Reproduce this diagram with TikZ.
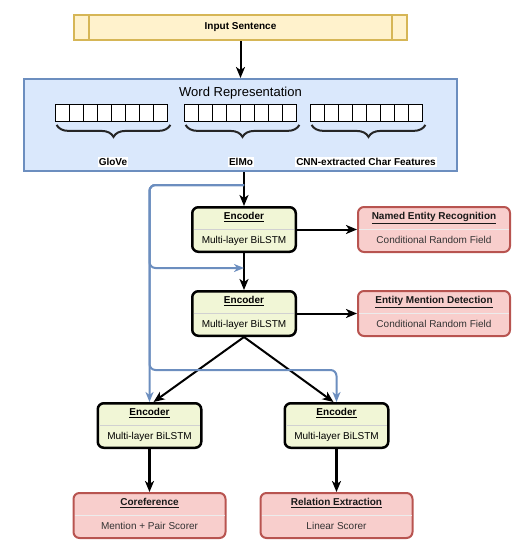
\documentclass[tikz,border=0pt]{standalone}
\usepackage{fontspec}
\setmainfont{Liberation Sans}
\usetikzlibrary{positioning,calc,arrows.meta,decorations.pathreplacing}

\definecolor{sentfill}{HTML}{FFF2CC}
\definecolor{sentline}{HTML}{D6B656}
\definecolor{repfill}{HTML}{DAE8FC}
\definecolor{repline}{HTML}{6C8EBF}
\definecolor{encfill}{HTML}{F1F6D6}
\definecolor{taskfill}{HTML}{F8CECC}
\definecolor{taskline}{HTML}{B85450}

\begin{document}
\begin{tikzpicture}[
  x=1pt, y=-1pt,
  every node/.style={
    text centered,
    font=\fontsize{10}{12}\selectfont
  },
  sentence/.style={
    rectangle,
    draw=sentline,
    fill=sentfill,
    line width=2pt,
    minimum width=333pt,
    minimum height=25pt,
    inner sep=0pt,
    font=\bfseries\fontsize{10}{12}\selectfont
  },
  wordbox/.style={
    rectangle,
    draw=repline,
    fill=repfill,
    line width=2pt,
    minimum width=433pt,
    minimum height=92pt,
    inner sep=0pt
  },
  cell/.style={
    rectangle,
    draw=black,
    fill=white,
    line width=0.8pt,
    minimum width=14pt,
    minimum height=17pt,
    inner sep=0pt
  },
  tag/.style={
    fill=white,
    inner sep=1pt,
    font=\bfseries\fontsize{10}{12}\selectfont
  },
  encoder/.style={
    rectangle,
    draw=black,
    fill=encfill,
    line width=2.5pt,
    rounded corners=6pt,
    minimum width=103.5pt,
    minimum height=44.5pt,
    inner sep=0pt
  },
  task/.style={
    rectangle,
    draw=taskline,
    fill=taskfill,
    line width=2pt,
    rounded corners=6pt,
    minimum width=152pt,
    minimum height=45pt,
    inner sep=0pt
  },
  head/.style={
    inner sep=0pt,
    text height=7.3pt,
    text depth=2pt,
    font=\bfseries\fontsize{10}{12}\selectfont
  },
  body/.style={
    inner sep=0pt,
    text height=7.3pt,
    text depth=2pt
  },
  divider/.style={
    draw=black!18,
    line width=1.5pt,
    shorten >=2.6pt,
    shorten <=2.6pt
  },
  flow/.style={
    draw=black,
    line width=2pt,
    -{Stealth[length=11pt,width=9pt,inset=3pt]}
  },
  heavy/.style={
    flow,
    line width=2.6pt
  },
  skip/.style={
    draw=repline,
    line width=2pt,
    rounded corners=6pt,
    -{Stealth[length=10pt,width=8pt,inset=3pt]}
  },
  brace/.style={
    draw=black!85,
    line width=2pt,
    decorate,
    decoration={brace,mirror,amplitude=12pt}
  }
]
  \useasboundingbox (0,0) rectangle (531,549);

  \node (input) [sentence] at (240.5,27.5) {Input Sentence};
  \draw[sentline, line width=2pt] ($(input.north west)+(16,1)$) -- ($(input.south west)+(16,-1)$);
  \draw[sentline, line width=2pt] ($(input.north east)+(-16,1)$) -- ($(input.south east)+(-16,-1)$);

  \node (wordrep) [wordbox, below=37pt of input] {};
  \node (repTitle) at ($(wordrep.north)+(0,15)$) {\fontsize{13}{15}\selectfont Word Representation};

  % embedding vectors
  \foreach \name/\x in {glove/55,elmo/184,char/310}{
    \foreach \i in {1,...,8}{
      \node (\name\i) [cell] at (\x+14*\i-7,113) {};
    }
    \draw[brace] ($(\name1.south west)+(2,3)$) -- ($(\name8.south east)+(3,3)$);
  }
  \node (gloveTag) [tag] at (113,162) {GloVe};
  \node (elmoTag) [tag] at (241,162) {ElMo};
  \node (charTag) [tag] at (366,162) {CNN-extracted Char Features};

  \node (encA) [encoder, below=34pt of wordrep, xshift=3.5pt] {};
  \node (ner) [task, right=60pt of encA] {};
  \node (encB) [encoder, below=37pt of encA] {};
  \node (emd) [task, right=60pt of encB] {};
  \node (encC) [encoder, below=65pt of encB, xshift=-94.5pt] {};
  \node (encD) [encoder, below=65pt of encB, xshift=92.5pt] {};
  \node (coref) [task, below=43pt of encC] {};
  \node (relex) [task, below=43pt of encD] {};

  \foreach \n in {encA,encB,encC,encD}{
    \draw[divider] (\n.west) -- (\n.east);
    \node (\n head) [head] at ($(\n.north)+(0,11)$) {\underline{Encoder}};
    \node (\n body) [body] at ($(\n.south)+(0,-12)$) {Multi-layer BiLSTM};
  }
  \foreach \n/\h/\b in {ner/Named Entity Recognition/Conditional Random Field,
                        emd/Entity Mention Detection/Conditional Random Field,
                        coref/Coreference/Mention + Pair Scorer,
                        relex/Relation Extraction/Linear Scorer}{
    \draw[divider, draw=white!85!gray, shorten >=2pt, shorten <=2pt] (\n.west) -- (\n.east);
    \node (\n head) [head, text=black!90] at ($(\n.north)+(0,11)$) {\underline{\h}};
    \node (\n body) [body, text=black!80] at ($(\n.south)+(0,-12)$) {\b};
  }

  \coordinate (tap) at ($(encA.north)+(0,-21)$);
  \coordinate (gap) at ($(encA.south)+(0,15)$);
  \coordinate (fork) at ($(encB.south)+(0,33)$);

  \draw[flow] (input) -- (wordrep);
  \draw[flow] (wordrep.south -| encA.north) -- (encA);
  \draw[flow] (encA) -- (encB);
  \draw[flow] (encA) -- (ner);
  \draw[flow] (encB) -- (emd);
  \draw[flow] (encB.south) -- ($(encC.north)+(4,0)$);
  \draw[flow] (encB.south) -- ($(encD.north)+(-3,0)$);
  \draw[heavy] (encC) -- (coref);
  \draw[heavy] (encD) -- (relex);

  \draw[skip] (tap) -| (encC.north);
  \draw[skip] (tap) -| (encC.north |- gap) -- (gap);
  \draw[skip] (tap) -| (encC.north |- fork) -- (fork -| encD.north) -- (encD.north);
\end{tikzpicture}
\end{document}
